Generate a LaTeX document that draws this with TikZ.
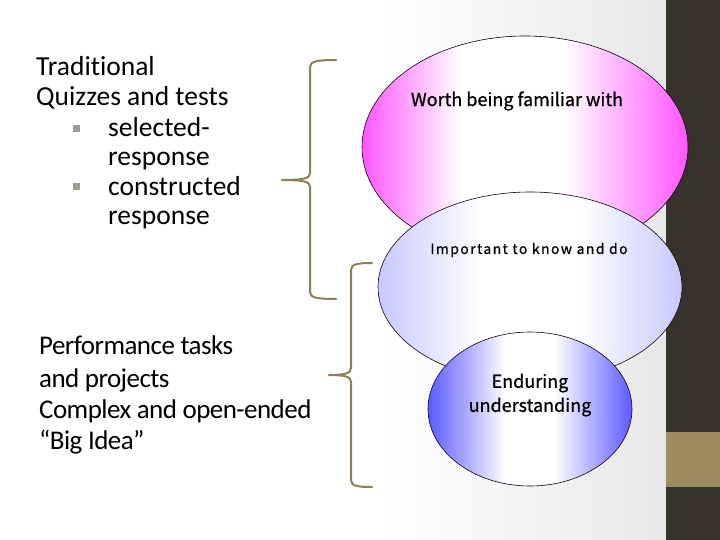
\documentclass[tikz,border=0pt]{standalone}
\usepackage{fontspec}
\setmainfont[Ligatures=NoCommon]{Carlito}
\newfontfamily\gothic[FakeBold=0.8]{Noto Sans CJK JP}
\newfontfamily\gothicwide[LetterSpace=10,FakeBold=0.6]{Noto Sans CJK JP}
\newfontfamily\tightcal[LetterSpace=-2,Ligatures=NoCommon]{Carlito}
\usetikzlibrary{shapes.geometric}
\definecolor{barbrown}{RGB}{56,50,44}
\definecolor{bartan}{RGB}{157,140,94}
\definecolor{bracecol}{RGB}{140,128,88}
\definecolor{pinkedge}{RGB}{255,85,255}
\definecolor{lavedge}{RGB}{200,200,255}
\definecolor{blueedge}{RGB}{90,90,255}
\definecolor{bulletgray}{RGB}{160,156,148}
\pgfdeclarehorizontalshading{pinkfade}{100bp}{color(0bp)=(pinkedge); color(25bp)=(pinkedge); color(40bp)=(white); color(56bp)=(white); color(75bp)=(pinkedge); color(100bp)=(pinkedge)}
\pgfdeclarehorizontalshading{lavfade}{100bp}{color(0bp)=(lavedge); color(25bp)=(lavedge); color(42bp)=(white); color(58bp)=(white); color(75bp)=(lavedge); color(100bp)=(lavedge)}
\pgfdeclarehorizontalshading{bluefade}{100bp}{color(0bp)=(blueedge); color(25bp)=(blueedge); color(44bp)=(white); color(56bp)=(white); color(75bp)=(blueedge); color(100bp)=(blueedge)}
\tikzset{
  bubble/.style={ellipse, draw=black!85!violet, line width=0.6pt, inner sep=0pt, shade},
  toptext/.style={anchor=base west, inner sep=0pt, font=\fontsize{27.5}{30}\selectfont},
  lowtext/.style={anchor=base west, inner sep=0pt, font=\tightcal\fontsize{27}{31}\selectfont},
  curly/.style={draw=bracecol, line width=2pt, line cap=round},
}

\begin{document}
\begin{tikzpicture}[x=1pt,y=-1pt]
\useasboundingbox (0,0) rectangle (720,540);
% background and side bar
\fill[white] (0,0) rectangle (666,540);
\shade[left color=white, right color=black!9] (380,0) rectangle (666,540);
\fill[barbrown] (666,0) rectangle (720,540);
\fill[bartan] (666,432) rectangle (720,487);

% left column texts
\node[toptext] (trad) at (36,76) {Traditional};
\node[toptext] (quiz) at (36,106) {Quizzes and tests};
\fill[bulletgray] (73,125) rectangle (80,132);
\node[toptext] (sel1) at (108,137) {selected-};
\node[toptext] (sel2) at (108,166) {response};
\fill[bulletgray] (73,183) rectangle (80,190);
\node[toptext] (con1) at (108,196) {constructed};
\node[toptext] (con2) at (108,225) {response};

\node[lowtext] (perf) at (39,354) {Performance tasks};
\node[lowtext] (proj) at (39,387) {and projects};
\node[lowtext] (comp) at (39,418) {Complex and open-ended};
\node[lowtext] (big) at (39,449) {“Big Idea”};

% braces
\draw[curly] (336,60) .. controls (318,60) and (310,61) .. (310,67) -- (310,173) .. controls (310,178) and (305,180) .. (282,180);
\draw[curly] (336,299) .. controls (318,299) and (310,298) .. (310,292) -- (310,187) .. controls (310,182) and (305,180) .. (282,180);
\draw[curly] (372,263) .. controls (358,263) and (351,264) .. (351,270) -- (351,368) .. controls (351,373) and (346,375) .. (329,375);
\draw[curly] (372,487) .. controls (358,487) and (351,486) .. (351,480) -- (351,382) .. controls (351,377) and (346,375) .. (329,375);

% nested ellipses
\node[bubble, shading=pinkfade, minimum width=326pt, minimum height=222pt] (worth) at (525,147) {};
\node[bubble, shading=lavfade, minimum width=304pt, minimum height=190pt] (know) at (530,287) {};
\node[bubble, shading=bluefade, minimum width=204pt, minimum height=154pt] (endur) at (530,409) {};

\node[font=\gothic\fontsize{18}{22}\selectfont, inner sep=0pt] (worthlbl) at (517,101) {Worth being familiar with};
\node[font=\gothicwide\fontsize{14}{18}\selectfont, inner sep=0pt] (knowlbl) at (529,250) {Important to know and do};
\node[font=\gothic\fontsize{18}{24}\selectfont, inner sep=0pt, align=center] (endurlbl) at (530,395) {Enduring\\understanding};
\end{tikzpicture}
\end{document}
